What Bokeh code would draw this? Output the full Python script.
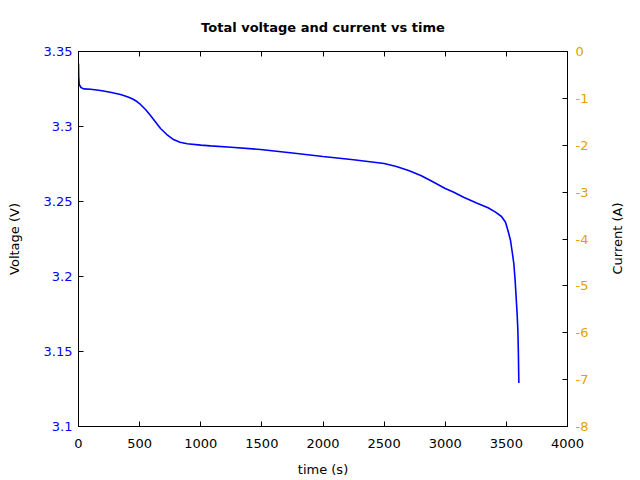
import math
from bokeh.plotting import figure
from bokeh.models import LinearAxis, Range1d, FixedTicker, CustomJSTickFormatter, Label
from bokeh.embed import file_html
from bokeh.resources import INLINE

# Data
time_s = [0, 2, 6, 20, 43, 100, 180, 260, 344, 400, 439, 475, 507, 550, 589, 630,
          671, 720, 777, 830, 889, 1000, 1080, 1250, 1489, 1750, 2000, 2250, 2500,
          2600, 2700, 2800, 2879, 3000, 3070, 3150, 3261, 3350, 3411, 3460, 3493,
          3515, 3534, 3550, 3561, 3572, 3580, 3588, 3594, 3598, 3602]
voltage_v = [3.342, 3.333, 3.328, 3.326, 3.3251, 3.3248, 3.324, 3.3228, 3.3213, 3.3198,
             3.3185, 3.3168, 3.3147, 3.3112, 3.3073, 3.303, 3.2987, 3.2948, 3.2913,
             3.2895, 3.2885, 3.2876, 3.2871, 3.2862, 3.2847, 3.2823, 3.280, 3.2778,
             3.2753, 3.2733, 3.2707, 3.2673, 3.264, 3.2587, 3.2562, 3.2528, 3.2489,
             3.2458, 3.2429, 3.240, 3.2362, 3.230, 3.224, 3.215, 3.2085, 3.197, 3.186,
             3.175, 3.164, 3.150, 3.129]

x_ticks = [0, 500, 1000, 1500, 2000, 2500, 3000, 3500, 4000]
v_ticks = [3.1, 3.15, 3.2, 3.25, 3.3, 3.35]
i_ticks = [-8, -7, -6, -5, -4, -3, -2, -1, 0]

FONT = "DejaVu Sans"
FS = "13px"
BLUE = "#0000ff"
ORANGE = "#e69f00"

fmt_code = "return String(Number(tick.toFixed(4)));"

p = figure(width=640, height=480, output_backend="svg", toolbar_location=None,
           x_range=Range1d(0, 4000), y_range=Range1d(3.1, 3.35),
           min_border_left=78, min_border_right=73, min_border_top=51, min_border_bottom=54,
           title="Total voltage and current vs time")
p.extra_y_ranges = {"current": Range1d(-8, 0)}

p.title.align = "center"
p.title.text_font = FONT
p.title.text_font_size = FS
p.title.text_font_style = "bold"
p.title.text_color = "black"
p.title.standoff = 34

p.xgrid.visible = False
p.ygrid.visible = False
p.outline_line_color = "black"
p.outline_line_width = 1
p.outline_line_alpha = 1
p.background_fill_color = "white"
p.border_fill_color = "white"

p.line(time_s, voltage_v, line_color=BLUE, line_width=1.6)

def style_axis(ax, color, label_std, axis_std):
    ax.major_tick_in = 5
    ax.major_tick_out = 0
    ax.minor_tick_in = 0
    ax.minor_tick_out = 0
    ax.major_tick_line_color = "black"
    ax.axis_line_color = "black"
    ax.major_label_text_font = FONT
    ax.major_label_text_font_size = FS
    ax.major_label_text_color = color
    ax.major_label_standoff = label_std
    ax.axis_label_text_font = FONT
    ax.axis_label_text_font_size = FS
    ax.axis_label_text_font_style = "normal"
    ax.axis_label_text_color = "black"
    ax.axis_label_standoff = axis_std
    ax.formatter = CustomJSTickFormatter(code=fmt_code)

xa = p.xaxis[0]
xa.ticker = FixedTicker(ticks=x_ticks)
xa.axis_label = "time (s)"
style_axis(xa, "black", 12, 11)

ya = p.yaxis[0]
ya.ticker = FixedTicker(ticks=v_ticks)
ya.axis_label = "Voltage (V)"
style_axis(ya, BLUE, 6, 19)

ra = LinearAxis(y_range_name="current", ticker=FixedTicker(ticks=i_ticks))
style_axis(ra, ORANGE, 8, 19)
p.add_layout(ra, "right")

# right-side axis title, reading bottom-to-top like the reference
cur_label = Label(x=617, y=238, x_units="canvas", y_units="canvas",
                  text="Current (A)", angle=math.pi / 2,
                  text_align="center", text_baseline="middle",
                  text_font=FONT, text_font_size=FS, text_color="black")
p.add_layout(cur_label, "right")

ta = LinearAxis(ticker=FixedTicker(ticks=x_ticks))
style_axis(ta, "black", 0, 0)
ta.major_label_text_font_size = "0px"
ta.formatter = CustomJSTickFormatter(code="return '';")
p.add_layout(ta, "above")

open("out.html", "w").write(file_html(p, INLINE))
